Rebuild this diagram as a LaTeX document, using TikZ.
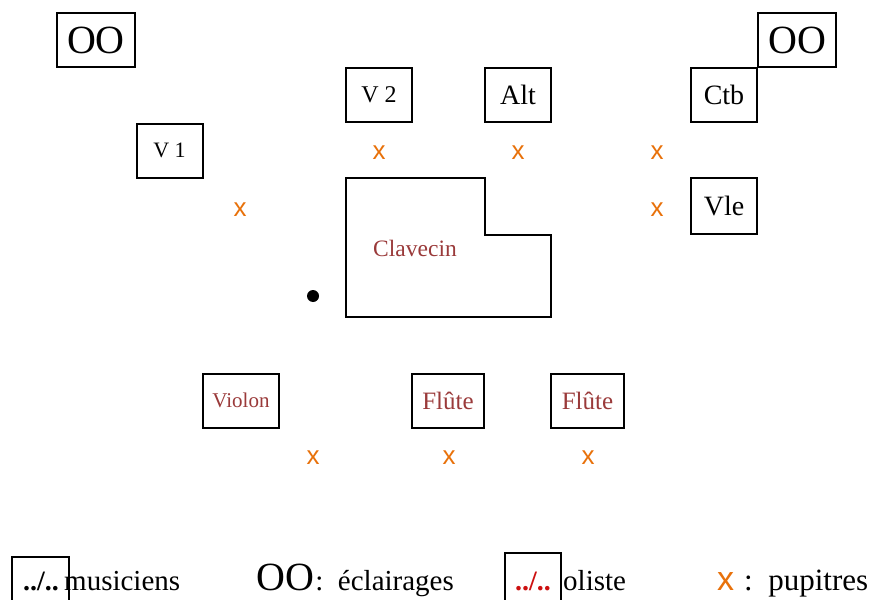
\documentclass[tikz,border=0pt]{standalone}
\usepackage{fontspec}
\setmainfont{Liberation Serif}
\newfontfamily\deskfont{Liberation Sans}
\usetikzlibrary{positioning}
\definecolor{deskorange}{HTML}{E8710A}
\definecolor{solocol}{HTML}{9A3A3A}
\definecolor{legred}{HTML}{CC1010}
\newcommand{\fsz}[1]{\fontsize{#1}{#1}\selectfont}
\tikzset{%
  mbox/.style={draw,line width=2pt,inner sep=0,minimum width=66pt,minimum height=54pt},
  lbox/.style={mbox,minimum width=78pt,font=\fsz{40}},
  solo/.style={mbox,text=solocol},
  desk/.style={text=deskorange,inner sep=0,font=\deskfont\fsz{26}},
  legtxt/.style={anchor=base west,inner sep=0,font=\fsz{29}}
}

\begin{document}
\begin{tikzpicture}[x=1pt,y=-1pt]
    \useasboundingbox (0,0) rectangle (869,599);
    % lights
    \node[lbox] (oo1) at (96,40) {OO};
    \node[lbox] (oo2) at (797,40) {OO};
    % strings
    \node[mbox,font=\fsz{22}] (v1) at (169.5,150.5) {V 1};
    \node[mbox,font=\fsz{24}] (v2) at (379,95) {V 2};
    \node[mbox,font=\fsz{28}] (alt) at (518,95) {Alt};
    \node[mbox,font=\fsz{28}] (ctb) at (724,95) {Ctb};
    \node[mbox,font=\fsz{28},minimum height=56pt] (vle) at (724,206) {Vle};
    % soloists
    \node[solo,font=\fsz{21},minimum width=76pt] (violon) at (241,400.5) {Violon};
    \node[solo,font=\fsz{25},minimum width=72pt] (flA) at (448,400.5) {Flûte};
    \node[solo,font=\fsz{25},minimum width=73pt] (flB) at (587.5,400.5) {Flûte};
    % harpsichord
    \draw[line width=2.5pt] (346,178) -- (485,178) -- (485,235) -- (551,235) -- (551,317) -- (346,317) -- cycle;
    \node[text=solocol,font=\fsz{23.5},inner sep=0] (clav) at (415,248) {Clavecin};
    \node[circle,fill,inner sep=0,minimum size=12pt] (chef) at (313,296) {};
    % desks
    \node[desk] (d1) at (379,153) {x};
    \node[desk] (d2) at (518,153) {x};
    \node[desk] (d3) at (657,153) {x};
    \node[desk] (d4) at (240,210) {x};
    \node[desk] (d5) at (657,210) {x};
    \node[desk] (d6) at (313,458) {x};
    \node[desk] (d7) at (449,458) {x};
    \node[desk] (d8) at (588,458) {x};
    % legend
    \node[legtxt] (musi) at (64,590) {musiciens};
    \node[draw,line width=2pt,minimum width=57pt,minimum height=60pt,inner sep=0] (leg1) at (40.5,587) {};
    \node[anchor=base,inner sep=0,font=\bfseries\fsz{28}] (leg1t) at (41,590) {../..};
    \node[legtxt,font=\fsz{40}] (legoo) at (256,590) {OO};
    \node[legtxt,right=1pt of legoo.base east,anchor=base west] (eclair) {: \,éclairages};
    \node[draw,line width=2pt,minimum width=56pt,minimum height=64pt,inner sep=0] (leg2) at (533,585) {};
    \node[anchor=base,inner sep=0,text=legred,font=\bfseries\fsz{28}] (leg2t) at (533,590) {../..};
    \node[legtxt] (solist) at (563,590) {oliste};
    \node[legtxt,text=deskorange,font=\deskfont\fsz{34}] (legx) at (717,590) {x};
    \node[legtxt,font=\fsz{31}] (pupi) at (744,590) {:\, pupitres};
  \end{tikzpicture}
\end{document}
